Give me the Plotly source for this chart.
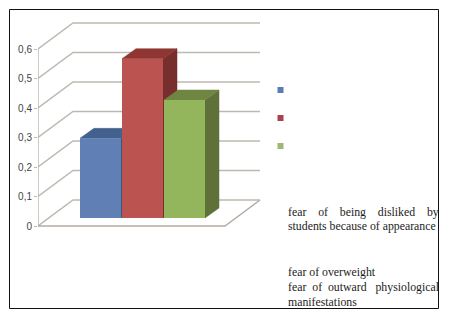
import plotly.graph_objects as go

# Data
categories = ["fear of being disliked by students because of appearance",
              "fear of overweight",
              "fear of outward physiological manifestations"]
values = [0.27, 0.54, 0.40]
tick_values = [0, 0.1, 0.2, 0.3, 0.4, 0.5, 0.6]
tick_labels = ["0", "0,1", "0,2", "0,3", "0,4", "0,5", "0,6"]
front_colors = ["#5f7fb5", "#bb5450", "#93b65d"]
top_colors = ["#44608f", "#8f3532", "#6f8643"]
side_colors = ["#3d567f", "#772f2e", "#5f7139"]
legend_colors = ["#5b7cb0", "#a8434f", "#9db873"]

# Layout constants (pixel-sized x axis, value y axis)
W, H = 452, 320
PX_PER_UNIT = 295.0
ZERO_PX = 226.0
Y_RANGE = [(ZERO_PX - H) / PX_PER_UNIT, ZERO_PX / PX_PER_UNIT]
X0, DX_WALL, FLOOR_W = 38, 35, 187
DY_WALL = 26 / PX_PER_UNIT
BAR_W, BAR_STEP, BAR_LEFT = 41, 42, 80
DX_BAR, DY_BAR = 14, 10 / PX_PER_UNIT
BASE = 8 / PX_PER_UNIT
GRID = "#bdb9b1"


def py(p):
    return (ZERO_PX - p) / PX_PER_UNIT


fig = go.Figure()


def poly(xs, ys, color):
    fig.add_trace(go.Scatter(x=xs, y=ys, mode="lines", fill="toself", fillcolor=color,
                             line=dict(color=color, width=0.5), hoverinfo="skip",
                             showlegend=False))


def line(xs, ys, color=GRID, width=1.5):
    fig.add_trace(go.Scatter(x=xs, y=ys, mode="lines", line=dict(color=color, width=width),
                             hoverinfo="skip", showlegend=False))


# Walls and floor
for t in tick_values:
    back = X0 + DX_WALL
    line([X0, back, back + FLOOR_W], [t, t + DY_WALL, t + DY_WALL])
line([X0, X0], [0, tick_values[-1]])
line([X0, X0 + FLOOR_W, X0 + FLOOR_W + DX_WALL], [0, 0, DY_WALL], color="#b5aaa3")

# Depth faces of the bars
centers = []
for i, v in enumerate(values):
    xl = BAR_LEFT + i * BAR_STEP
    xr = xl + BAR_W
    centers.append(xl + BAR_W / 2)
    top = BASE + v
    poly([xr, xr + DX_BAR, xr + DX_BAR, xr, xr],
         [BASE, BASE + DY_BAR, top + DY_BAR, top, BASE], side_colors[i])
    poly([xl, xl + DX_BAR, xr + DX_BAR, xr, xl],
         [top, top + DY_BAR, top + DY_BAR, top, top], top_colors[i])

# Front faces of the bars
fig.add_trace(go.Bar(x=centers, y=values, base=BASE, width=BAR_W,
                     marker=dict(color=front_colors, line=dict(width=0)),
                     xaxis="x2", yaxis="y2", showlegend=False,
                     customdata=categories, hovertemplate="%{customdata}: %{y}<extra></extra>"))

# Legend keys
for col, p in zip(legend_colors, [90, 118, 146]):
    fig.add_trace(go.Scatter(x=[280.5], y=[py(p)], mode="markers",
                             marker=dict(symbol="square", size=6, color=col),
                             hoverinfo="skip", showlegend=False))

# Legend text, lines set as in the justified original
S = "\u00a0"
lines = [
    (212, f"fear{S*4}of{S*4}being{S*4}disliked{S*4}by"),
    (226, "students because of appearance"),
    (272, "fear of overweight"),
    (287, f"fear{S*2}of{S*2}outward{S*3}physiological"),
    (302, "manifestations"),
]
annotations = [dict(x=286, y=py(p), xref="x", yref="y", text=t, showarrow=False,
                    xanchor="left", yanchor="middle", align="left",
                    font=dict(family="Liberation Serif", size=11.8, color="#1c1c1c"))
               for p, t in lines]

fig.update_layout(
    width=W, height=H, margin=dict(l=0, r=0, t=0, b=0),
    paper_bgcolor="white", plot_bgcolor="rgba(0,0,0,0)",
    barmode="overlay", annotations=annotations,
    xaxis=dict(domain=[X0 / W, 1], range=[X0, W], visible=False, fixedrange=True),
    yaxis=dict(range=Y_RANGE, tickmode="array", tickvals=tick_values, ticktext=tick_labels,
               showgrid=False, zeroline=False, showline=False, ticks="outside", ticklen=3,
               tickcolor=GRID, tickwidth=1, anchor="x",
               tickfont=dict(family="Liberation Sans", size=10, color="#444444"),
               fixedrange=True),
    xaxis2=dict(domain=[X0 / W, 1], range=[X0, W], visible=False, overlaying="x", anchor="y2",
                fixedrange=True),
    yaxis2=dict(range=Y_RANGE, visible=False, overlaying="y", anchor="x2", fixedrange=True),
    shapes=[dict(type="rect", xref="paper", yref="paper",
                 x0=9.5 / W, x1=438.5 / W, y0=1 - 308.5 / H, y1=1 - 9.5 / H,
                 line=dict(color="#111111", width=1), fillcolor="rgba(0,0,0,0)", layer="above")],
)
fig.write_html("out.html", config={"displayModeBar": False},
               post_script="document.body.style.margin='0';document.documentElement.style.overflow='hidden';")
